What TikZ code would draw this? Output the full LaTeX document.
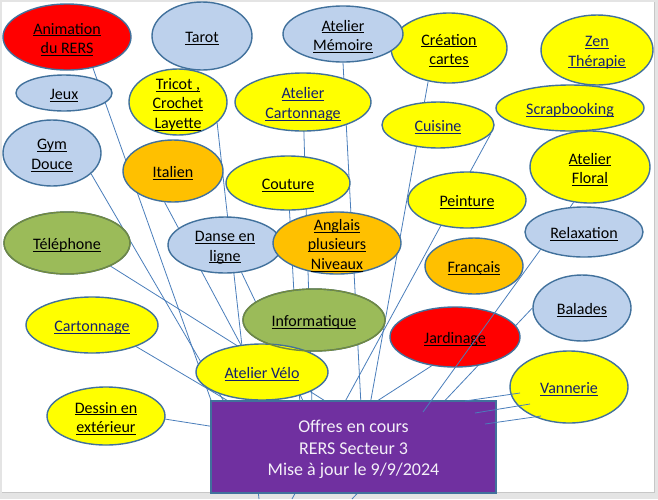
\documentclass[tikz,border=0pt]{standalone}
\usepackage{fontspec}
\setmainfont{Carlito}
\usetikzlibrary{shapes.geometric}
\pgfdeclarelayer{bg}
\pgfdeclarelayer{fg}
\pgfsetlayers{bg,main,fg}
\definecolor{lblue}{HTML}{BDD1EC}
\definecolor{yel}{HTML}{FFFF00}
\definecolor{org}{HTML}{FFC000}
\definecolor{rd}{HTML}{FF0000}
\definecolor{grn}{HTML}{9BBB59}
\definecolor{purp}{HTML}{7030A0}
\definecolor{edgeblue}{HTML}{41719C}
\definecolor{edgegreen}{HTML}{71893F}
\definecolor{lineblue}{HTML}{4A7EBB}
\definecolor{navy}{HTML}{14206E}
\definecolor{pagegray}{HTML}{E4E4E4}
\definecolor{boxtxt}{HTML}{F4F0F8}
\newcommand\ul[1]{\leavevmode\setbox0=\hbox{#1}\rlap{\rule[-2.3pt]{\wd0}{1pt}}\box0}
\tikzset{
  bub/.style={ellipse, draw=edgeblue, line width=1.4pt, inner sep=0pt},
  lbl/.style={align=center, font=\fontsize{16}{19.5}\selectfont, inner sep=0pt, yshift=-2.5pt},
  conn/.style={draw=lineblue, line width=0.8pt},
  mainbox/.style={rectangle, fill=purp, draw=edgeblue, line width=1.2pt, minimum width=285pt, minimum height=92pt, inner sep=0pt},
  boxtext/.style={align=center, text=boxtxt, font=\fontsize{18}{21.5}\selectfont, inner sep=0pt, yshift=-2.5pt},
}
\newcommand\bub[8][black]{%
  \node[bub, fill=#7, minimum width=#5pt, minimum height=#6pt] (#2) at (#3,#4) {};
  \node[lbl, text=#1] (#2-t) at (#2) {#8};}
\begin{document}
\begin{tikzpicture}[x=1pt,y=-1pt]
\useasboundingbox (0,0) rectangle (658,499);
\begin{pgfonlayer}{bg}
  \fill[pagegray] (0,0) rectangle (658,499);
  \fill[white] (2,2) rectangle (654,492);
  \draw[color=black!22, line width=0.6pt] (654,2) -- (654,492) -- (2,492);
\end{pgfonlayer}

% bubbles
\bub{anim}{67}{37}{128}{66}{rd}{\ul{Animation}\\\ul{du RERS}}
\bub{tarot}{202}{36}{100}{68}{lblue}{\ul{Tarot}}
\bub{creation}{449}{48}{116}{70}{yel}{\ul{Création}\\\ul{cartes}}
\bub{memoire}{343}{34}{120}{56}{lblue}{\ul{Atelier}\\\ul{Mémoire}}
\bub[navy]{zen}{597}{50}{112}{70}{yel}{\ul{Zen}\\\ul{Thérapie}}
\bub{jeux}{64}{93}{96}{36}{lblue}{\ul{Jeux}}
\bub{tricot}{178}{102}{98}{66}{yel}{\ul{Tricot ,}\\\ul{Crochet}\\\ul{Layette}}
\bub[navy]{cart2}{303}{102}{136}{58}{yel}{\ul{Atelier}\\\ul{Cartonnage}}
\bub[navy]{cuisine}{438}{125}{112}{46}{yel}{\ul{Cuisine}}
\bub[navy]{scrap}{570}{108}{148}{46}{yel}{\ul{Scrapbooking}}
\bub{gym}{52}{153}{98}{66}{lblue}{\ul{Gym}\\\ul{Douce}}
\bub{italien}{173}{171}{100}{62}{org}{\ul{Italien}}
\bub{couture}{288}{183}{124}{54}{yel}{\ul{Couture}}
\bub{floral}{590}{167}{120}{72}{yel}{\ul{Atelier}\\\ul{Floral}}
\bub{peinture}{467}{200}{118}{56}{yel}{\ul{Peinture}}
\bub{tel}{67}{243}{126}{62}{grn}{\ul{Téléphone}}
\bub{danse}{225}{245}{114}{56}{lblue}{\ul{Danse en}\\\ul{ligne}}
\bub{anglais}{337}{243}{128}{62}{org}{\ul{Anglais}\\\ul{plusieurs}\\\ul{Niveaux}}
\bub{relax}{584}{232}{118}{50}{lblue}{\ul{Relaxation}}
\bub{francais}{474}{266}{98}{56}{org}{\ul{Français}}
\bub[navy]{carton}{92}{325}{132}{56}{yel}{\ul{Cartonnage}}
\bub{info}{314}{320}{142}{62}{grn}{\ul{Informatique}}
\bub{balades}{582}{308}{98}{66}{lblue}{\ul{Balades}}
\bub{jard}{455}{337}{130}{60}{rd}{\ul{Jardinage}}
\bub[navy]{velo}{262}{372}{132}{56}{yel}{\ul{Atelier Vélo}}
\bub[navy]{vann}{569}{387}{118}{72}{yel}{\ul{Vannerie}}
\bub{dessin}{106}{416}{118}{58}{yel}{\ul{Dessin en}\\\ul{extérieur}}
\draw[draw=edgegreen, line width=1.4pt] (tel) ellipse (63 and 31);
\draw[draw=edgegreen, line width=1.4pt] (info) ellipse (71 and 31);

\node[mainbox] (box) at (353.5,447) {};
\node[boxtext] (box-t) at (box) {Offres en cours\\RERS Secteur 3\\Mise à jour le 9/9/2024};

% connector end points
\coordinate (cA) at (212,403);
\coordinate (cG) at (226,405);
\coordinate (cI) at (273,405);
\coordinate (cT) at (259,499);
\coordinate (cTel) at (330,404);
\coordinate (cC) at (235,405);
\coordinate (cD) at (222,428);
\coordinate (cDa) at (305,405);
\coordinate (cCo) at (300,405);
\coordinate (cCa) at (312,405);
\coordinate (cM) at (361,405);
\coordinate (cCr) at (370,405);
\coordinate (cCu) at (292,499);
\coordinate (cF) at (423,412);
\coordinate (cB) at (352,499);
\coordinate (cJ) at (374,403);
\coordinate (v1a) at (520,393);
\coordinate (v1b) at (465,401);
\coordinate (v2a) at (530,404);
\coordinate (v2b) at (475,413);
\coordinate (v3a) at (541,416);
\coordinate (v3b) at (485,424);

\begin{pgfonlayer}{bg}
  \draw[conn] (anim.-50) -- (cA);
  \draw[conn] (gym.-28) -- (cG);
  \draw[conn] (italien.-105) -- (cI);
  \draw[conn] (tricot.-28) -- (cT);
  \draw[conn] (tel.-28) -- (cTel);
  \draw[conn] (carton.-26) -- (cC);
  \draw[conn] (dessin.-3) -- (cD);
  \draw[conn] (danse.-59) -- (cDa);
  \draw[conn] (couture.center) -- (cCo);
  \draw[conn] (cart2.center) -- (cCa);
  \draw[conn] (memoire.south) -- (cM);
  \draw[conn] (creation.-122) -- (cCr);
  \draw[conn] (cuisine.-9) -- (cCu);
  \draw[conn] (floral.-115) -- (relax.202);
  \draw[conn] (balades.west) -- (cB);
  \draw[conn] (jard.-129) -- (cJ);
\end{pgfonlayer}
\begin{pgfonlayer}{fg}
  \draw[conn] (relax.202) -- (cF);
  \draw[conn] (v1a) -- (v1b);
  \draw[conn] (v2a) -- (v2b);
  \draw[conn] (v3a) -- (v3b);
\end{pgfonlayer}
\end{tikzpicture}
\end{document}
